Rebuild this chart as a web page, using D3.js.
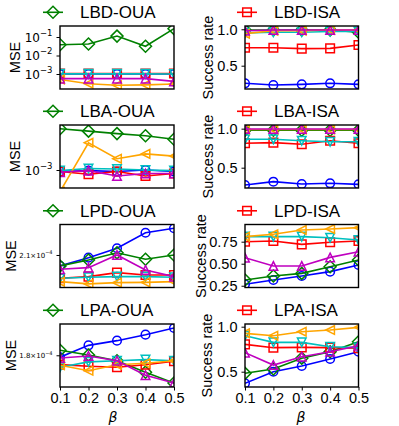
<!DOCTYPE html>
<html>
<head>
<meta charset="utf-8">
<script src="https://cdn.jsdelivr.net/npm/d3@7"></script>
<style>
  body { margin: 0; background: #fff; }
  svg { display: block; font-family: "Liberation Sans", Arial, sans-serif; }
</style>
</head>
<body>
<div id="chart"></div>
<script>
// beta values on the x axis
const betas = [0.1, 0.2, 0.3, 0.4, 0.5];

// every panel: rows are the six series in this order
// blue circle, green diamond, red square, cyan triangle-down, orange triangle-left, magenta triangle-up
const lbdMse = [
  [1.0e-3, 1.0e-3, 1.0e-3, 1.0e-3, 1.0e-3],
  [0.038, 0.0417, 0.112, 0.0316, 0.282],
  [1.07e-3, 1.07e-3, 1.07e-3, 1.07e-3, 1.07e-3],
  [1.02e-3, 1.02e-3, 1.02e-3, 1.02e-3, 1.0e-3],
  [5.1e-4, 3.0e-4, 2.45e-4, 2.6e-4, 2.9e-4],
  [5.6e-4, 5.6e-4, 5.6e-4, 5.6e-4, 4.0e-4]
];
const lbaMse = [
  [9.5e-4, 9.8e-4, 9.5e-4, 1.0e-3, 9.5e-4],
  [3.89e-3, 3.59e-3, 3.31e-3, 3.09e-3, 2.75e-3],
  [9.5e-4, 8.7e-4, 9.5e-4, 8.2e-4, 8.9e-4],
  [9.8e-4, 1.05e-3, 1.035e-3, 1.0e-3, 9.8e-4],
  [4.9e-4, 2.45e-3, 1.45e-3, 1.70e-3, 1.58e-3],
  [9.3e-4, 9.8e-4, 8.2e-4, 8.9e-4, 8.9e-4]
];
const lpdMse = [
  [2.016e-4, 2.079e-4, 2.153e-4, 2.282e-4, 2.320e-4],
  [2.016e-4, 2.061e-4, 2.117e-4, 2.067e-4, 2.100e-4],
  [1.925e-4, 1.937e-4, 1.966e-4, 1.949e-4, 1.949e-4],
  [1.925e-4, 1.932e-4, 1.937e-4, 1.937e-4, 1.932e-4],
  [1.901e-4, 1.885e-4, 1.894e-4, 1.896e-4, 1.901e-4],
  [1.991e-4, 2.003e-4, 2.100e-4, 1.986e-4, 1.937e-4]
];
const lpaMse = [
  [1.787e-4, 1.868e-4, 1.901e-4, 1.944e-4, 1.993e-4],
  [1.834e-4, 1.802e-4, 1.764e-4, 1.690e-4, 1.623e-4],
  [1.738e-4, 1.728e-4, 1.721e-4, 1.738e-4, 1.760e-4],
  [1.721e-4, 1.756e-4, 1.764e-4, 1.771e-4, 1.764e-4],
  [1.734e-4, 1.699e-4, 1.738e-4, 1.747e-4, 1.764e-4],
  [1.782e-4, 1.795e-4, 1.764e-4, 1.671e-4, 1.623e-4]
];

const lbdRate = [
  [0.258, 0.235, 0.244, 0.258, 0.244],
  [0.99, 0.99, 0.99, 0.99, 0.96],
  [0.747, 0.747, 0.734, 0.738, 0.784],
  [0.95, 0.96, 0.96, 0.97, 0.97],
  [0.94, 0.98, 0.98, 0.99, 0.99],
  [0.98, 0.99, 0.99, 0.99, 0.99]
];
const lbaRate = [
  [0.278, 0.321, 0.291, 0.30, 0.287],
  [0.98, 0.98, 0.98, 0.98, 0.98],
  [0.813, 0.821, 0.80, 0.846, 0.813],
  [0.864, 0.864, 0.846, 0.833, 0.833],
  [0.99, 0.99, 0.99, 0.99, 0.99],
  [0.995, 0.995, 0.995, 0.995, 0.995]
];
const lpdRate = [
  [0.266, 0.315, 0.36, 0.41, 0.485],
  [0.315, 0.36, 0.39, 0.466, 0.542],
  [0.75, 0.758, 0.72, 0.743, 0.758],
  [0.807, 0.807, 0.807, 0.795, 0.769],
  [0.807, 0.834, 0.883, 0.894, 0.909],
  [0.568, 0.474, 0.474, 0.572, 0.636]
];
const lpaRate = [
  [0.371, 0.50, 0.563, 0.641, 0.722],
  [0.482, 0.53, 0.649, 0.722, 0.833],
  [0.804, 0.767, 0.77, 0.767, 0.76],
  [0.90, 0.826, 0.826, 0.778, 0.767],
  [0.926, 0.90, 0.944, 0.963, 0.993],
  [0.711, 0.574, 0.667, 0.722, 0.789]
];

const leftTitles = ['LBD-OUA', 'LBA-OUA', 'LPD-OUA', 'LPA-OUA'];
const rightTitles = ['LBD-ISA', 'LBA-ISA', 'LPD-ISA', 'LPA-ISA'];

// tick values
const lbdMseTicks = [1e-1, 1e-2, 1e-3];
const lbaMseTicks = [1e-3];
const lpdMseTicks = [2.1e-4];
const lpaMseTicks = [1.8e-4];
const rateTicksA = [0.5, 1.0];
const rateTicksB = [0.25, 0.5, 0.75];

// styles
const colors = ['#0000ff', '#008000', '#ff0000', '#00bfbf', '#ffa500', '#bf00bf'];
const markers = ['circle', 'diamond', 'square', 'tdown', 'tleft', 'tup'];

function markerPath(type) {
  const s = 4.3, r = 4.3, d = 6;
  switch (type) {
    case 'circle': return `M${r},0A${r},${r} 0 1,1 ${-r},0A${r},${r} 0 1,1 ${r},0Z`;
    case 'square': return `M${-s},${-s}H${s}V${s}H${-s}Z`;
    case 'diamond': return `M0,${-d}L${d},0L0,${d}L${-d},0Z`;
    case 'tup': return `M0,${-s}L${s},${s}L${-s},${s}Z`;
    case 'tdown': return `M0,${s}L${s},${-s}L${-s},${-s}Z`;
    case 'tleft': return `M${-s},0L${s},${-s}L${s},${s}Z`;
  }
}

const W = 399, H = 426;
const svg = d3.select('#chart').append('svg').attr('width', W).attr('height', H);

const rowTop = [26, 125, 224.5, 324], rowH = 63;
const colX = [[60, 174], [245, 358.5]];

const panels = [
  {row: 0, col: 0, title: leftTitles[0], data: lbdMse, log: true, domain: [10 ** -3.81, 10 ** -0.405], ticks: lbdMseTicks, fmt: 'pow', labelX: 15},
  {row: 1, col: 0, title: leftTitles[1], data: lbaMse, log: true, domain: [10 ** -3.257, 10 ** -2.357], ticks: lbaMseTicks, fmt: 'pow', labelX: 15},
  {row: 2, col: 0, title: leftTitles[2], data: lpdMse, log: true, domain: [1.860e-4, 2.353e-4], ticks: lpdMseTicks, fmt: 'sci', labelX: 11},
  {row: 3, col: 0, title: leftTitles[3], data: lpaMse, log: true, domain: [1.599e-4, 2.023e-4], ticks: lpaMseTicks, fmt: 'sci', labelX: 11},
  {row: 0, col: 1, title: rightTitles[0], data: lbdRate, log: false, domain: [0.18, 1.045], ticks: rateTicksA, fmt: '.1f', labelX: 208},
  {row: 1, col: 1, title: rightTitles[1], data: lbaRate, log: false, domain: [0.24, 1.047], ticks: rateTicksA, fmt: '.1f', labelX: 208},
  {row: 2, col: 1, title: rightTitles[2], data: lpdRate, log: false, domain: [0.23, 0.945], ticks: rateTicksB, fmt: '.2f', labelX: 201},
  {row: 3, col: 1, title: rightTitles[3], data: lpaRate, log: false, domain: [0.33, 1.03], ticks: rateTicksA, fmt: '.1f', labelX: 207}
];

panels.forEach((p, i) => {
  const [x0, x1] = colX[p.col];
  const top = rowTop[p.row], bottom = top + rowH;
  const x = d3.scaleLinear().domain([0.1, 0.5]).range([x0, x1]);
  const y = (p.log ? d3.scaleLog() : d3.scaleLinear()).domain(p.domain).range([bottom, top]);
  const g = svg.append('g');

  // clip to the frame
  const clipId = 'clip' + i;
  svg.append('clipPath').attr('id', clipId)
    .append('rect').attr('x', x0).attr('y', top).attr('width', x1 - x0).attr('height', rowH);

  const plot = g.append('g').attr('clip-path', `url(#${clipId})`);
  const line = d3.line().x((d, j) => x(betas[j])).y(d => y(d));

  p.data.forEach((vals, s) => {
    plot.append('path')
      .attr('d', line(vals))
      .attr('fill', 'none')
      .attr('stroke', colors[s])
      .attr('stroke-width', 1.6);
    plot.selectAll(null)
      .data(vals)
      .enter()
      .append('path')
        .attr('transform', (d, j) => `translate(${x(betas[j])},${y(d)})`)
        .attr('d', markerPath(markers[s]))
        .attr('fill', 'none')
        .attr('stroke', colors[s])
        .attr('stroke-width', 1.5);
  });

  // frame
  g.append('rect')
    .attr('x', x0).attr('y', top).attr('width', x1 - x0).attr('height', rowH)
    .attr('fill', 'none').attr('stroke', '#000').attr('stroke-width', 1.4);

  // y axis
  const yAxis = d3.axisLeft(y).tickValues(p.ticks).tickSize(3.5).tickPadding(4).tickSizeOuter(0);
  const ya = g.append('g').attr('transform', `translate(${x0},0)`).call(yAxis);
  ya.select('.domain').remove();
  ya.selectAll('line').attr('stroke', '#000').attr('stroke-width', 1);
  ya.selectAll('text').attr('fill', '#000').each(function(d) {
    const t = d3.select(this).text(null);
    if (p.fmt === 'pow') {
      t.attr('font-family', '"DejaVu Sans", sans-serif').attr('font-size', 12).attr('dy', '0.35em');
      t.append('tspan').text('10');
      t.append('tspan').attr('dy', -6).attr('font-size', 8.5).text('\u2212' + Math.round(-Math.log10(d)));
    } else if (p.fmt === 'sci') {
      const e = Math.floor(Math.log10(d));
      const m = d / 10 ** e;
      t.attr('font-family', '"DejaVu Sans", sans-serif').attr('font-size', 7).attr('dy', '0.35em');
      t.append('tspan').text(m.toFixed(1) + '\u00d710');
      t.append('tspan').attr('dy', -3.5).attr('font-size', 5).text('\u2212' + (-e));
    } else {
      t.attr('font-size', 14.5).attr('dy', '0.35em').text(d3.format(p.fmt)(d));
    }
  });

  // y label
  g.append('text')
    .attr('transform', `translate(${p.labelX},${(top + bottom) / 2}) rotate(-90)`)
    .attr('text-anchor', 'middle')
    .attr('dy', '0.35em')
    .attr('font-size', 14.5)
    .text(p.col === 0 ? 'MSE' : 'Success rate');

  // x axis on the bottom row only
  if (p.row === 3) {
    const xAxis = d3.axisBottom(x).tickValues(betas).tickSize(3.5).tickPadding(2.5).tickSizeOuter(0).tickFormat(d3.format('.1f'));
    const xa = g.append('g').attr('transform', `translate(0,${bottom})`).call(xAxis);
    xa.select('.domain').remove();
    xa.selectAll('line').attr('stroke', '#000');
    xa.selectAll('text').attr('fill', '#000').attr('font-size', 14.5);
    g.append('text')
      .attr('x', p.col === 0 ? 113 : 301)
      .attr('y', 422)
      .attr('text-anchor', 'middle')
      .attr('font-family', '"DejaVu Sans", sans-serif')
      .attr('font-style', 'italic')
      .attr('font-size', 14)
      .text('\u03b2');
  }

  // legend: one entry above the panel
  const si = p.col === 0 ? 1 : 2;
  const lx0 = p.col === 0 ? 43 : 237;
  const ly = top - 13.7;
  const lg = g.append('g');
  lg.append('line')
    .attr('x1', lx0).attr('x2', lx0 + 20).attr('y1', ly).attr('y2', ly)
    .attr('stroke', colors[si]).attr('stroke-width', 1.6);
  lg.append('path')
    .attr('transform', `translate(${lx0 + 10},${ly})`)
    .attr('d', markerPath(markers[si]))
    .attr('fill', 'none').attr('stroke', colors[si]).attr('stroke-width', 1.5);
  lg.append('text')
    .attr('x', lx0 + 37).attr('y', ly + 6)
    .attr('font-size', 17)
    .text(p.title);
});
</script>
</body>
</html>
